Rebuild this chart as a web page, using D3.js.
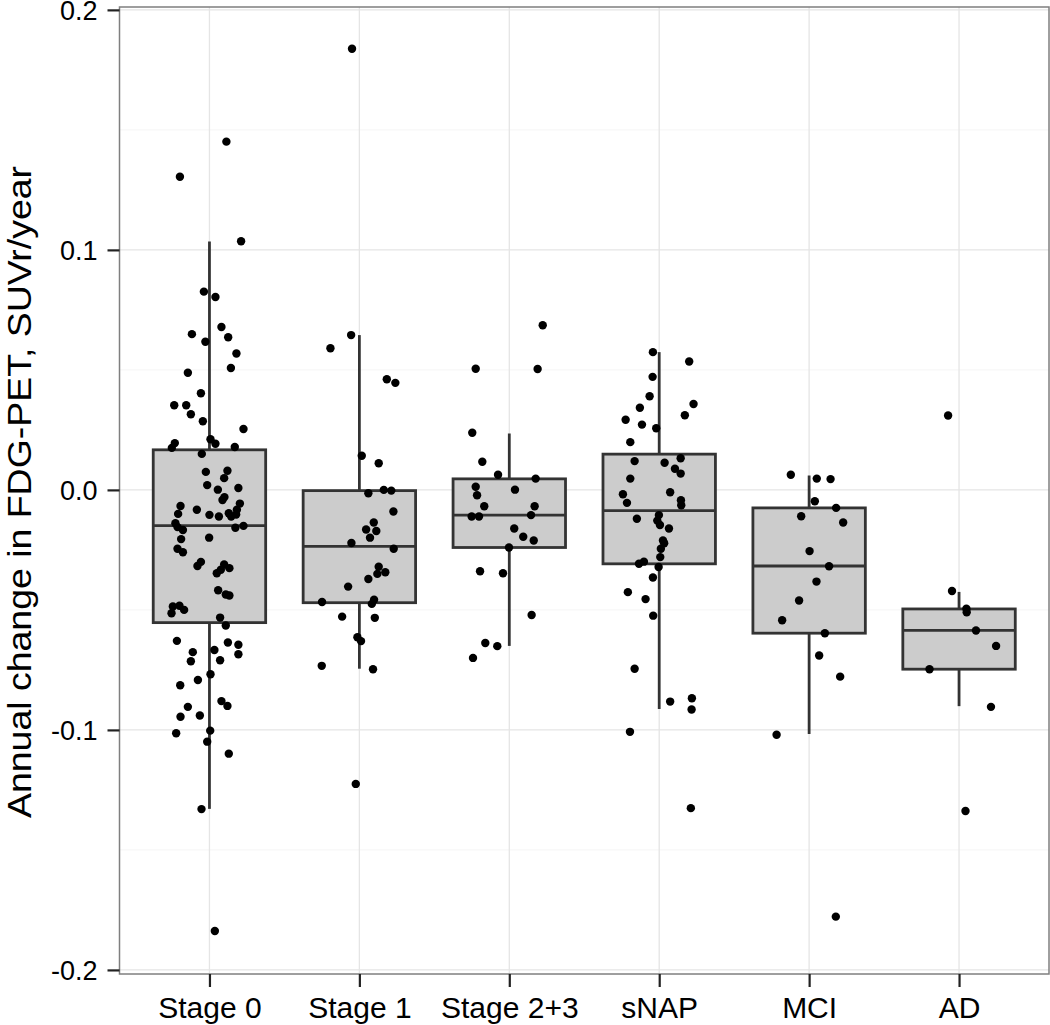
<!DOCTYPE html>
<html>
<head>
<meta charset="utf-8">
<script src="https://cdn.jsdelivr.net/npm/d3@7"></script>
<style>
  body { margin: 0; background: #fff; }
  text { font-family: "Liberation Sans", Arial, sans-serif; fill: #000; }
</style>
</head>
<body>
<div id="chart"></div>
<script>
// groups on the x axis
var categories = ["Stage 0", "Stage 1", "Stage 2+3", "sNAP", "MCI", "AD"];

// jittered points: [value, jitter offset in category-step units]
var stage0 = [[0.1451,0.113],[0.1305,-0.197],[0.1036,0.211],[0.0826,-0.037],[0.0804,0.04],[0.0679,0.08],
  [0.0649,-0.117],[0.0636,0.125],[0.0617,-0.027],[0.0568,0.18],[0.0508,0.143],[0.0488,-0.144],[0.0403,-0.057],
  [0.0353,-0.235],[0.0353,-0.155],[0.0315,-0.124],[0.0286,-0.044],[0.0254,0.227],[0.0211,0.007],[0.0192,0.04],
  [0.0195,-0.231],[0.0175,-0.251],[0.0179,0.169],[0.015,-0.051],[0.0075,-0.024],[0.008,0.12],[0.0049,0.098],
  [0.002,-0.015],[0.0001,0.056],[0.0008,0.193],[-0.003,0.1],[-0.0042,0.087],[-0.0067,-0.193],[-0.0057,0.203],
  [-0.0083,-0.084],[-0.0083,0.183],[-0.01,-0.209],[-0.0104,0],[-0.0111,0.063],[-0.0097,0.129],[-0.0111,0.145],
  [-0.0103,0.178],[-0.0139,-0.227],[-0.0155,-0.213],[-0.0167,-0.177],[-0.0158,0.173],[-0.015,0.227],
  [-0.0205,-0.189],[-0.0199,-0.002],[-0.0245,-0.213],[-0.026,-0.177],[-0.03,-0.057],[-0.0317,-0.08],
  [-0.0311,0.098],[-0.0326,0.133],[-0.0333,0.076],[-0.0347,0.049],[-0.0418,0.058],[-0.0436,0.109],
  [-0.044,0.133],[-0.0486,-0.244],[-0.0483,-0.2],[-0.05,-0.169],[-0.0514,-0.253],[-0.0532,0.071],
  [-0.0565,0.109],[-0.0629,-0.217],[-0.0636,0.123],[-0.0645,0.193],[-0.0676,-0.111],[-0.0667,0.033],
  [-0.0714,-0.124],[-0.071,0.071],[-0.0685,0.193],[-0.0768,0.007],[-0.0792,-0.077],[-0.0814,-0.195],
  [-0.088,0.08],[-0.09,0.12],[-0.0904,-0.144],[-0.0945,-0.193],[-0.094,-0.064],[-0.1014,-0.222],
  [-0.1003,0.005],[-0.1049,-0.015],[-0.1099,0.129],[-0.133,-0.053],[-0.1838,0.036]];
var stage1 = [[0.1838,-0.049],[0.0645,-0.055],[0.059,-0.193],[0.0461,0.183],[0.0446,0.24],[0.0142,0.016],
  [0.0111,0.129],[-0.0014,0.06],[0,0.163],[-0.0003,0.213],[-0.009,0.227],[-0.0136,0.096],[-0.0165,0.045],
  [-0.0171,0.113],[-0.0199,0.071],[-0.0221,-0.053],[-0.0245,0.229],[-0.032,0.129],[-0.035,0.12],
  [-0.0343,0.173],[-0.0371,0.06],[-0.0403,-0.075],[-0.0467,-0.249],[-0.0458,0.098],[-0.0475,0.083],
  [-0.0528,-0.115],[-0.0533,0.103],[-0.0614,-0.013],[-0.063,0.011],[-0.0733,-0.251],[-0.0747,0.091],
  [-0.1225,-0.024]];
var stage23 = [[0.0686,0.223],[0.0505,-0.224],[0.0504,0.189],[0.0238,-0.247],[0.0117,-0.18],[0.0063,-0.075],
  [0.0047,0.176],[0.0013,-0.224],[-0.0022,-0.215],[0.0001,0.038],[-0.0068,-0.167],[-0.0068,0.169],
  [-0.0111,-0.251],[-0.0111,-0.202],[-0.0105,0.145],[-0.0161,0.033],[-0.0195,0.093],[-0.0211,0.163],
  [-0.024,-0.002],[-0.0339,-0.195],[-0.0347,-0.042],[-0.0521,0.149],[-0.0638,-0.16],[-0.0651,-0.08],
  [-0.07,-0.242]];
var snap = [[0.0574,-0.042],[0.0535,0.2],[0.0471,-0.044],[0.039,-0.064],[0.0358,0.229],[0.0342,-0.129],
  [0.0311,0.171],[0.0292,-0.224],[0.0272,-0.115],[0.0257,-0.02],[0.0199,-0.193],[0.012,-0.164],
  [0.0113,0.036],[0.0132,0.143],[0.0088,0.105],[0.0068,0.143],[0.0047,-0.193],[-0.0018,-0.242],
  [-0.001,0.073],[-0.0054,-0.215],[-0.0043,0.145],[-0.0064,0.147],[-0.0105,-0.002],[-0.012,-0.149],
  [-0.0128,-0.013],[-0.0146,0.005],[-0.0161,0.065],[-0.0211,0.025],[-0.0222,0.033],[-0.0245,0.011],
  [-0.028,0.007],[-0.0299,-0.102],[-0.0308,-0.135],[-0.0321,-0.004],[-0.0365,-0.042],[-0.0426,-0.209],
  [-0.0455,-0.091],[-0.0524,-0.04],[-0.0745,-0.164],[-0.0882,0.073],[-0.0868,0.218],[-0.0915,0.216],
  [-0.1008,-0.195],[-0.1326,0.211]];
var mci = [[0.0063,-0.122],[0.0047,0.051],[0.0045,0.143],[-0.0047,0.038],[-0.0075,0.18],[-0.011,-0.053],
  [-0.0136,0.227],[-0.0255,0.003],[-0.0318,0.133],[-0.0382,0.049],[-0.0461,-0.067],[-0.0543,-0.18],
  [-0.0597,0.105],[-0.069,0.067],[-0.0778,0.207],[-0.102,-0.217],[-0.1778,0.178]];
var ad = [[0.031,-0.073],[-0.0421,-0.047],[-0.0495,0.049],[-0.051,0.051],[-0.0586,0.113],[-0.065,0.247],
  [-0.0747,-0.197],[-0.0904,0.213],[-0.1338,0.043]];

// box summaries, one entry per category
var whiskerLow  = [-0.1329, -0.0745, -0.065, -0.0913, -0.1017, -0.0901];
var q1          = [-0.0553, -0.047, -0.024, -0.0308, -0.0597, -0.0747];
var medians     = [-0.0149, -0.0235, -0.0105, -0.0086, -0.0317, -0.0585];
var q3          = [0.0167, -0.0003, 0.0046, 0.0149, -0.0075, -0.0496];
var whiskerHigh = [0.1035, 0.0645, 0.0235, 0.0574, 0.006, -0.0425];

var yTicks = [-0.2, -0.1, 0.0, 0.1, 0.2];
var yMinor = [-0.15, -0.05, 0.05, 0.15];
var yTitle = "Annual change in FDG-PET, SUVr/year";

var groups = [stage0, stage1, stage23, snap, mci, ad];

var W = 1050, H = 1025;
var panelLeft = 119.5, panelRight = 1049, panelTop = 7, panelBottom = 974;

var svg = d3.select("#chart").append("svg")
    .attr("width", W)
    .attr("height", H);

var x = d3.scalePoint()
    .domain(categories)
    .range([panelLeft, panelRight])
    .padding(0.6);
var step = x.step();

var y = d3.scaleLinear()
    .domain([-0.2017, 0.2012])
    .range([panelBottom, panelTop]);

// panel + grid
svg.append("rect")
    .attr("x", panelLeft).attr("y", panelTop)
    .attr("width", panelRight - panelLeft).attr("height", panelBottom - panelTop)
    .attr("fill", "#fff");

svg.selectAll("line.minor")
    .data(yMinor)
    .enter().append("line")
    .attr("class", "minor")
    .attr("x1", panelLeft).attr("x2", panelRight)
    .attr("y1", function (d) { return y(d); })
    .attr("y2", function (d) { return y(d); })
    .attr("stroke", "#f5f5f5")
    .attr("stroke-width", 1);

svg.selectAll("line.major")
    .data(yTicks)
    .enter().append("line")
    .attr("class", "major")
    .attr("x1", panelLeft).attr("x2", panelRight)
    .attr("y1", function (d) { return y(d); })
    .attr("y2", function (d) { return y(d); })
    .attr("stroke", "#e5e5e5")
    .attr("stroke-width", 1.3);

svg.selectAll("line.vmajor")
    .data(categories)
    .enter().append("line")
    .attr("class", "vmajor")
    .attr("y1", panelTop).attr("y2", panelBottom)
    .attr("x1", function (d) { return x(d); })
    .attr("x2", function (d) { return x(d); })
    .attr("stroke", "#e5e5e5")
    .attr("stroke-width", 1.3);

// boxes
var boxW = step * 0.75;
var box = svg.selectAll("g.box")
    .data(categories)
    .enter().append("g")
    .attr("class", "box")
    .attr("transform", function (d) { return "translate(" + x(d) + ",0)"; });

var boxStroke = "#333333";

box.append("line")
    .attr("y1", function (d, i) { return y(whiskerHigh[i]); })
    .attr("y2", function (d, i) { return y(q3[i]); })
    .attr("stroke", boxStroke).attr("stroke-width", 2.8);

box.append("line")
    .attr("y1", function (d, i) { return y(q1[i]); })
    .attr("y2", function (d, i) { return y(whiskerLow[i]); })
    .attr("stroke", boxStroke).attr("stroke-width", 2.8);

box.append("rect")
    .attr("x", -boxW / 2)
    .attr("width", boxW)
    .attr("y", function (d, i) { return y(q3[i]); })
    .attr("height", function (d, i) { return y(q1[i]) - y(q3[i]); })
    .attr("fill", "#cccccc")
    .attr("stroke", boxStroke)
    .attr("stroke-width", 2.8);

box.append("line")
    .attr("x1", -boxW / 2).attr("x2", boxW / 2)
    .attr("y1", function (d, i) { return y(medians[i]); })
    .attr("y2", function (d, i) { return y(medians[i]); })
    .attr("stroke", boxStroke).attr("stroke-width", 2.8);

// jittered points
groups.forEach(function (pts, i) {
    svg.append("g").selectAll("circle")
        .data(pts)
        .enter().append("circle")
        .attr("cx", function (d) { return x(categories[i]) + d[1] * step; })
        .attr("cy", function (d) { return y(d[0]); })
        .attr("r", 4.2)
        .attr("fill", "#000");
});

// panel border
svg.append("rect")
    .attr("x", panelLeft).attr("y", panelTop)
    .attr("width", panelRight - panelLeft).attr("height", panelBottom - panelTop)
    .attr("fill", "none")
    .attr("stroke", "#7f7f7f")
    .attr("stroke-width", 1.5);

// axes (plain hyphen for negatives, like the R output)
var fmt = function (d) { return d.toFixed(1); };

var yAxis = d3.axisLeft(y)
    .tickValues(yTicks)
    .tickSize(12)
    .tickPadding(10)
    .tickFormat(fmt);

var gy = svg.append("g")
    .attr("transform", "translate(" + panelLeft + ",0)")
    .call(yAxis);
gy.select(".domain").remove();
gy.selectAll(".tick line").attr("stroke", "#222").attr("stroke-width", 2.2);
gy.selectAll(".tick text")
    .style("font-size", "27px")
    .attr("dy", "0.36em")
    .attr("fill", "#000");

var xAxis = d3.axisBottom(x)
    .tickSize(13)
    .tickPadding(10);

var gx = svg.append("g")
    .attr("transform", "translate(0," + panelBottom + ")")
    .call(xAxis);
gx.select(".domain").remove();
gx.selectAll(".tick line").attr("stroke", "#222").attr("stroke-width", 2.2);
gx.selectAll(".tick text")
    .style("font-size", "30px")
    .attr("fill", "#000");

svg.append("text")
    .attr("transform", "translate(31,492) rotate(-90)")
    .attr("text-anchor", "middle")
    .attr("textLength", 652)
    .attr("lengthAdjust", "spacingAndGlyphs")
    .style("font-size", "33px")
    .text(yTitle);
</script>
</body>
</html>
